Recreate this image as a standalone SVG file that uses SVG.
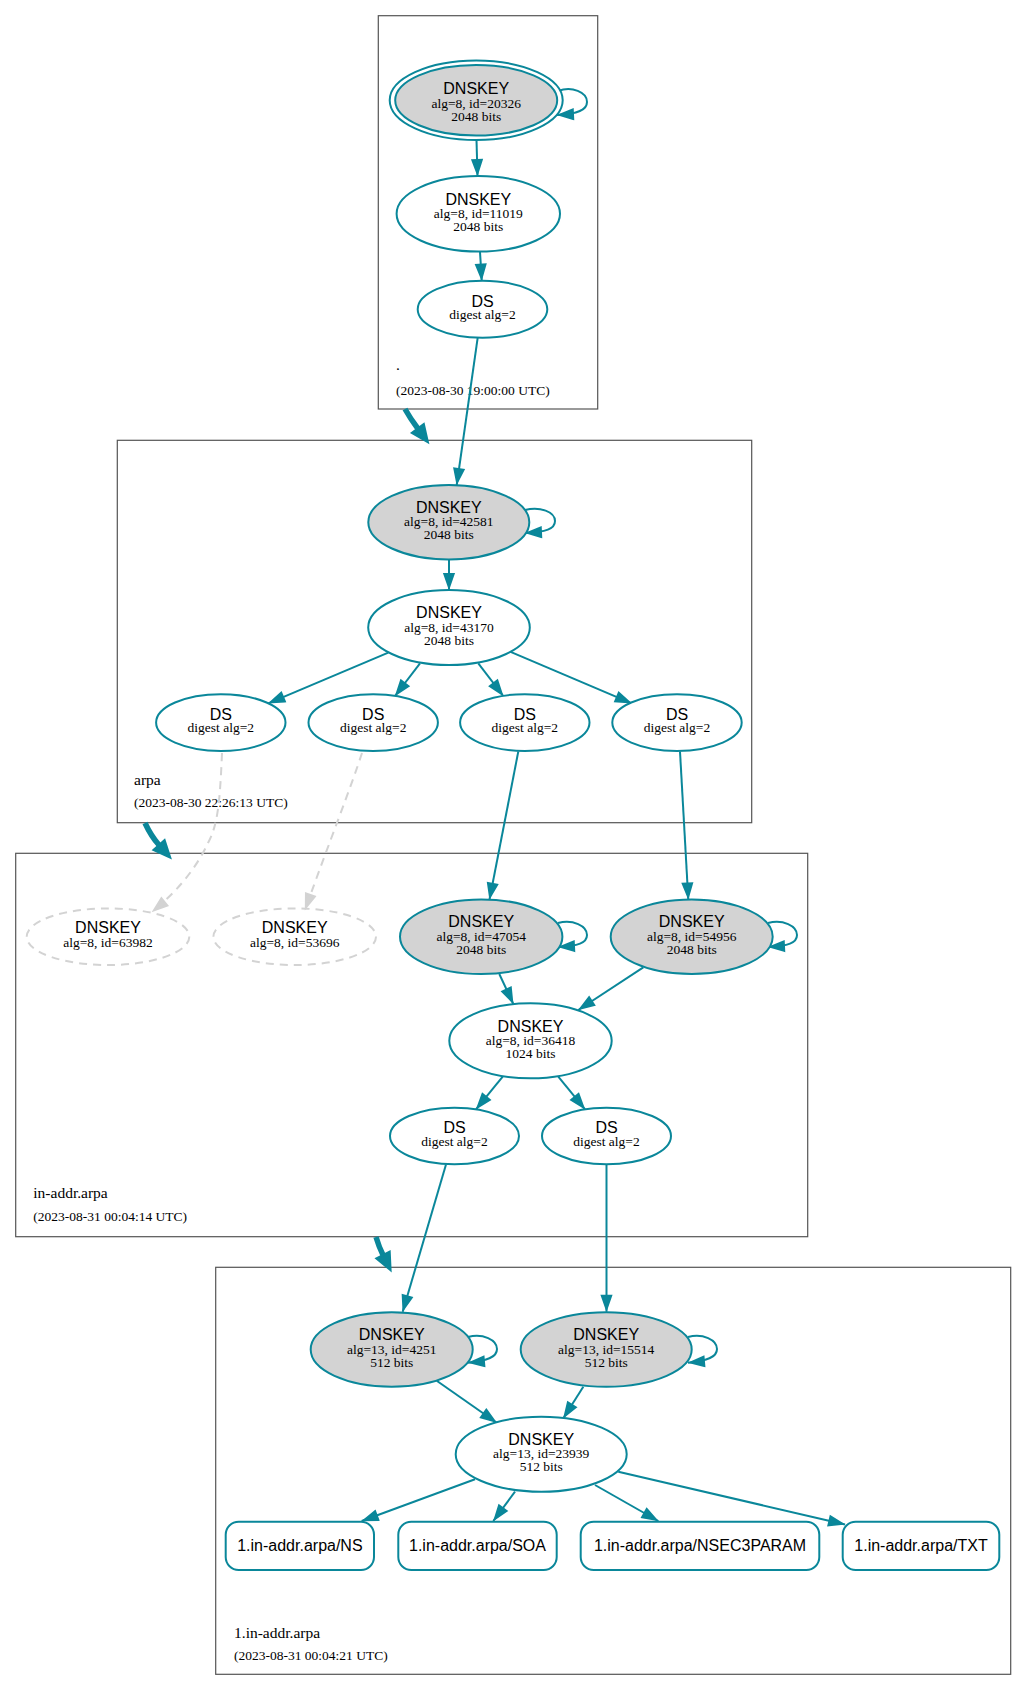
<svg xmlns="http://www.w3.org/2000/svg" width="1027" height="1692" viewBox="0 0 1027 1692">
<style>
.cl{fill:none;stroke:#555;stroke-width:1.2}
.cn{font-family:"Liberation Serif","Times New Roman",serif;font-size:15.5px;fill:#000}
.cd{font-family:"Liberation Serif","Times New Roman",serif;font-size:13.5px;fill:#000}
.n ellipse,.n rect{fill:#fff;stroke:#0a879a;stroke-width:2}
.k ellipse{fill:#d3d3d3}
.k ellipse.outer{fill:#fff}
.g ellipse{fill:none;stroke:#d3d3d3;stroke-dasharray:8,6}
.t1{font-family:"Liberation Sans",Arial,sans-serif;font-size:16px;text-anchor:middle;fill:#000}
.t2{font-family:"Liberation Serif","Times New Roman",serif;font-size:13.5px;text-anchor:middle;fill:#000}
.e{fill:none;stroke:#0a879a;stroke-width:2;marker-end:url(#ah)}
.ed{fill:none;stroke:#d3d3d3;stroke-width:2;stroke-dasharray:8,6;marker-end:url(#ahg)}
.eb{fill:none;stroke:#0a879a;stroke-width:5.5;marker-end:url(#ahb)}
</style>
<defs>
<marker id="ah" markerUnits="userSpaceOnUse" viewBox="-2 -7 20 14" markerWidth="20" markerHeight="14" refX="16" refY="0" orient="auto" overflow="visible"><path d="M0,-4.7 L13.5,0 L0,4.7 Z" fill="#0a879a" stroke="#0a879a" stroke-width="2"/></marker>
<marker id="ahg" markerUnits="userSpaceOnUse" viewBox="-2 -7 20 14" markerWidth="20" markerHeight="14" refX="16" refY="0" orient="auto" overflow="visible"><path d="M0,-4.7 L13.5,0 L0,4.7 Z" fill="#d3d3d3" stroke="#d3d3d3" stroke-width="2"/></marker>
<marker id="ahb" markerUnits="userSpaceOnUse" viewBox="-2 -10 24 20" markerWidth="24" markerHeight="20" refX="0" refY="0" orient="auto" overflow="visible"><path d="M0,-7.5 L17,0 L0,7.5 Z" fill="#0a879a" stroke="#0a879a" stroke-width="2"/></marker>
</defs>
<rect width="1027" height="1692" fill="#fff"/>

<g id="clusters">
<g id="cluster-root">
<rect class="cl" x="378.3" y="15.7" width="219.4" height="393.3"/>
<text class="cn" x="396" y="370">.</text>
<text class="cd" x="396" y="395">(2023-08-30 19:00:00 UTC)</text>
</g>
<g id="cluster-arpa">
<rect class="cl" x="117.3" y="440.3" width="634.4" height="382.4"/>
<text class="cn" x="134" y="785">arpa</text>
<text class="cd" x="134" y="807.3">(2023-08-30 22:26:13 UTC)</text>
</g>
<g id="cluster-in-addr">
<rect class="cl" x="15.7" y="853.3" width="792" height="383.4"/>
<text class="cn" x="33.3" y="1198.3">in-addr.arpa</text>
<text class="cd" x="33.3" y="1221">(2023-08-31 00:04:14 UTC)</text>
</g>
<g id="cluster-1-in-addr">
<rect class="cl" x="215.7" y="1267.3" width="795" height="407"/>
<text class="cn" x="234" y="1637.7">1.in-addr.arpa</text>
<text class="cd" x="234" y="1660">(2023-08-31 00:04:21 UTC)</text>
</g>
</g>

<g id="connectors">
<path class="eb" d="M405,409 Q410,418 417.8,428.5"/>
<path class="eb" d="M145,823 Q151,836 159,845"/>
<path class="eb" d="M376,1237 Q379,1247 383,1255"/>

<path class="e" d="M476.5,140 L477.5,176"/>
<path class="e" d="M480,251.7 L481.7,280.7"/>
<path class="e" d="M477.7,337.7 L456.7,485"/>
<path class="e" d="M558,91 C572,86 587,92 587,102 C587,110 578,114 557,115"/>

<path class="e" d="M449,559.3 L449,590"/>
<path class="e" d="M525,510 C540,506 555,512 555,521 C555,529 546,532 525,533"/>
<path class="e" d="M388.3,652.7 L268.3,703.3"/>
<path class="e" d="M420,663.3 L395,696"/>
<path class="e" d="M478.3,663.3 L503.3,696"/>
<path class="e" d="M510,651.7 L631.7,703.3"/>
<path class="e" d="M518.3,751.5 L489.5,899.5"/>
<path class="e" d="M680,751.5 L688.3,899.5"/>
<path class="ed" d="M222,753 C220,800 218,825 208,843 C200,860 185,885 152,912"/>
<path class="ed" d="M362,753 C350,790 330,840 305,910"/>

<path class="e" d="M558,923 C573,919 587,926 587,935 C587,943 578,946 558,947"/>
<path class="e" d="M768,923 C783,919 797,926 797,935 C797,943 788,946 768,947"/>
<path class="e" d="M499.3,974 L513.3,1004"/>
<path class="e" d="M643.3,967.3 L578.3,1010"/>
<path class="e" d="M502.7,1076.7 L476,1109.3"/>
<path class="e" d="M558.3,1076.7 L585,1109.3"/>
<path class="e" d="M446,1164.5 L402.7,1311.7"/>
<path class="e" d="M606.5,1164.5 L606.5,1311.7"/>

<path class="e" d="M468,1337 C483,1333 497,1340 497,1349 C497,1357 488,1361 468,1362.7"/>
<path class="e" d="M688,1337 C703,1333 717,1340 717,1349 C717,1357 708,1361 688,1362.7"/>
<path class="e" d="M436.7,1380.7 L496.7,1422.7"/>
<path class="e" d="M583.3,1386.7 L563.3,1418.3"/>
<path class="e" d="M475,1479.3 L361.7,1521"/>
<path class="e" d="M515,1491.7 L493.3,1521"/>
<path class="e" d="M595,1485 L658.3,1521"/>
<path class="e" d="M618.3,1471.7 L845,1524.5"/>
</g>

<g id="node-dnskey-20326" class="n k">
<ellipse class="outer" cx="476.2" cy="100.3" rx="86.5" ry="39.8"/>
<ellipse cx="476.2" cy="100.3" rx="81" ry="35.3"/>
<text class="t1" x="476.2" y="94.3">DNSKEY</text>
<text class="t2" x="476.2" y="108.3">alg=8, id=20326</text>
<text class="t2" x="476.2" y="120.7">2048 bits</text>
</g>
<g id="node-dnskey-11019" class="n">
<ellipse cx="478.3" cy="213.8" rx="81.7" ry="37.8"/>
<text class="t1" x="478.3" y="204.5">DNSKEY</text>
<text class="t2" x="478.3" y="218">alg=8, id=11019</text>
<text class="t2" x="478.3" y="230.8">2048 bits</text>
</g>
<g id="node-ds-root" class="n">
<ellipse cx="482.5" cy="309.2" rx="64.8" ry="28.5"/>
<text class="t1" x="482.5" y="306.5">DS</text>
<text class="t2" x="482.5" y="319">digest alg=2</text>
</g>

<g id="node-dnskey-42581" class="n k">
<ellipse cx="448.8" cy="522.2" rx="80.5" ry="37.2"/>
<text class="t1" x="448.8" y="513">DNSKEY</text>
<text class="t2" x="448.8" y="526.4">alg=8, id=42581</text>
<text class="t2" x="448.8" y="539.2">2048 bits</text>
</g>
<g id="node-dnskey-43170" class="n">
<ellipse cx="449" cy="627.5" rx="80.8" ry="37.5"/>
<text class="t1" x="449" y="618.3">DNSKEY</text>
<text class="t2" x="449" y="631.7">alg=8, id=43170</text>
<text class="t2" x="449" y="644.5">2048 bits</text>
</g>
<g id="node-ds-arpa-1" class="n">
<ellipse cx="220.8" cy="722.6" rx="64.7" ry="28.4"/>
<text class="t1" x="220.8" y="719.9">DS</text>
<text class="t2" x="220.8" y="732.4">digest alg=2</text>
</g>
<g id="node-ds-arpa-2" class="n">
<ellipse cx="373.2" cy="722.6" rx="64.7" ry="28.4"/>
<text class="t1" x="373.2" y="719.9">DS</text>
<text class="t2" x="373.2" y="732.4">digest alg=2</text>
</g>
<g id="node-ds-arpa-3" class="n">
<ellipse cx="524.8" cy="722.6" rx="64.7" ry="28.4"/>
<text class="t1" x="524.8" y="719.9">DS</text>
<text class="t2" x="524.8" y="732.4">digest alg=2</text>
</g>
<g id="node-ds-arpa-4" class="n">
<ellipse cx="677" cy="722.6" rx="64.7" ry="28.4"/>
<text class="t1" x="677" y="719.9">DS</text>
<text class="t2" x="677" y="732.4">digest alg=2</text>
</g>

<g id="node-dnskey-63982" class="n g">
<ellipse cx="108" cy="936.7" rx="81.3" ry="28.3"/>
<text class="t1" x="108" y="933.3">DNSKEY</text>
<text class="t2" x="108" y="946.7">alg=8, id=63982</text>
</g>
<g id="node-dnskey-53696" class="n g">
<ellipse cx="294.7" cy="936.7" rx="81.3" ry="28.3"/>
<text class="t1" x="294.7" y="933.3">DNSKEY</text>
<text class="t2" x="294.7" y="946.7">alg=8, id=53696</text>
</g>
<g id="node-dnskey-47054" class="n k">
<ellipse cx="481.2" cy="936.7" rx="81.2" ry="37.3"/>
<text class="t1" x="481.2" y="927.3">DNSKEY</text>
<text class="t2" x="481.2" y="940.7">alg=8, id=47054</text>
<text class="t2" x="481.2" y="953.7">2048 bits</text>
</g>
<g id="node-dnskey-54956" class="n k">
<ellipse cx="691.7" cy="936.7" rx="81" ry="37.3"/>
<text class="t1" x="691.7" y="927.3">DNSKEY</text>
<text class="t2" x="691.7" y="940.7">alg=8, id=54956</text>
<text class="t2" x="691.7" y="953.7">2048 bits</text>
</g>
<g id="node-dnskey-36418" class="n">
<ellipse cx="530.5" cy="1040.8" rx="81.2" ry="37.5"/>
<text class="t1" x="530.5" y="1031.5">DNSKEY</text>
<text class="t2" x="530.5" y="1045">alg=8, id=36418</text>
<text class="t2" x="530.5" y="1057.8">1024 bits</text>
</g>
<g id="node-ds-inaddr-1" class="n">
<ellipse cx="454.5" cy="1136" rx="64.5" ry="28.3"/>
<text class="t1" x="454.5" y="1133.3">DS</text>
<text class="t2" x="454.5" y="1145.8">digest alg=2</text>
</g>
<g id="node-ds-inaddr-2" class="n">
<ellipse cx="606.5" cy="1136" rx="64.5" ry="28.3"/>
<text class="t1" x="606.5" y="1133.3">DS</text>
<text class="t2" x="606.5" y="1145.8">digest alg=2</text>
</g>

<g id="node-dnskey-4251" class="n k">
<ellipse cx="391.7" cy="1349.5" rx="81" ry="37.2"/>
<text class="t1" x="391.7" y="1340.3">DNSKEY</text>
<text class="t2" x="391.7" y="1353.7">alg=13, id=4251</text>
<text class="t2" x="391.7" y="1366.5">512 bits</text>
</g>
<g id="node-dnskey-15514" class="n k">
<ellipse cx="606.2" cy="1349.5" rx="85.5" ry="37.2"/>
<text class="t1" x="606.2" y="1340.3">DNSKEY</text>
<text class="t2" x="606.2" y="1353.7">alg=13, id=15514</text>
<text class="t2" x="606.2" y="1366.5">512 bits</text>
</g>
<g id="node-dnskey-23939" class="n">
<ellipse cx="541.2" cy="1454.2" rx="85.5" ry="37.5"/>
<text class="t1" x="541.2" y="1445">DNSKEY</text>
<text class="t2" x="541.2" y="1458.4">alg=13, id=23939</text>
<text class="t2" x="541.2" y="1471.2">512 bits</text>
</g>
<g id="node-rr-ns" class="n">
<rect x="225.7" y="1521.7" width="148.3" height="48.3" rx="13" ry="13"/>
<text class="t1" x="299.9" y="1550.5">1.in-addr.arpa/NS</text>
</g>
<g id="node-rr-soa" class="n">
<rect x="398.3" y="1521.7" width="158.4" height="48.3" rx="13" ry="13"/>
<text class="t1" x="477.5" y="1550.5">1.in-addr.arpa/SOA</text>
</g>
<g id="node-rr-nsec3param" class="n">
<rect x="580.7" y="1521.7" width="238.6" height="48.3" rx="13" ry="13"/>
<text class="t1" x="700" y="1550.5">1.in-addr.arpa/NSEC3PARAM</text>
</g>
<g id="node-rr-txt" class="n">
<rect x="842.7" y="1521.7" width="156.6" height="48.3" rx="13" ry="13"/>
<text class="t1" x="921" y="1550.5">1.in-addr.arpa/TXT</text>
</g>
</svg>
